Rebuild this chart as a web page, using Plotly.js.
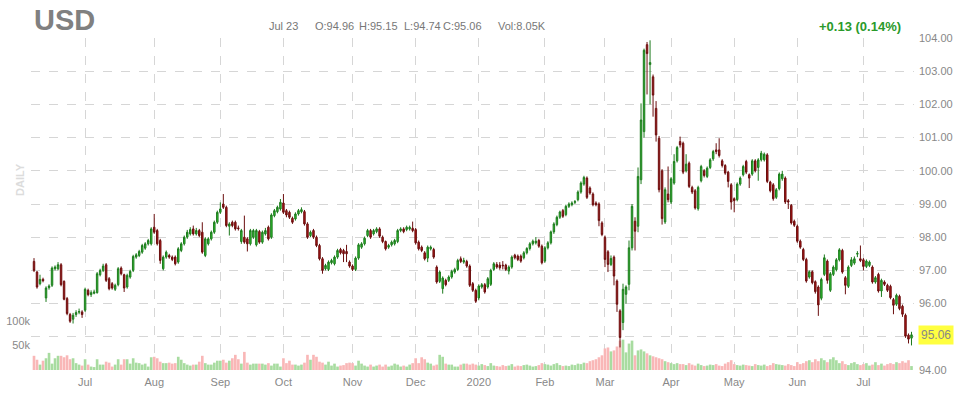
<!DOCTYPE html>
<html><head><meta charset="utf-8">
<script src="https://cdn.plot.ly/plotly-3.0.1.min.js"></script>
<style>html,body{margin:0;padding:0;background:#fff;}#chart{width:958px;height:398px;}</style>
</head><body><div id="chart"></div>
<script>
const startDate = '2019-06-06';
const holidays = ['2019-12-25','2020-01-01','2020-04-10'];
const monthLabels = ['Jul','Aug','Sep','Oct','Nov','Dec','2020','Feb','Mar','Apr','May','Jun','Jul'];
const priceTicks = [94,95,96,97,98,99,100,101,102,103,104];

const openP = [
97.27,96.95,96.60,96.73,96.17,96.48,96.55,97.05,97.05,97.17,
96.67,96.15,95.67,95.53,95.67,95.74,95.75,95.80,96.40,96.27,
96.31,96.33,96.87,97.00,97.17,96.75,96.60,96.43,96.57,97.07,
96.87,96.50,96.80,97.00,97.40,97.45,97.55,97.67,97.80,97.80,
98.30,98.20,97.90,97.05,97.40,97.45,97.40,97.40,97.25,97.60,
97.80,98.00,98.10,98.25,98.10,98.20,98.15,97.45,97.80,97.95,
98.15,98.45,98.75,99.00,98.90,98.33,98.45,98.45,98.28,97.87,
98.00,97.95,97.80,98.00,97.77,98.17,97.85,98.10,98.30,98.00,
98.65,98.77,98.85,99.03,98.80,98.75,98.57,98.55,98.70,98.77,
98.77,98.40,98.05,98.20,98.00,97.75,97.35,97.05,97.03,97.23,
97.20,97.40,97.63,97.60,97.57,97.25,97.13,97.03,97.37,97.70,
97.80,98.05,98.20,98.10,98.17,98.25,98.00,97.87,97.70,97.77,
97.80,97.87,98.20,98.25,98.23,98.25,98.27,98.23,97.85,97.70,
97.53,97.37,97.65,97.63,97.10,96.67,96.45,96.70,96.70,96.80,
96.95,97.03,97.35,97.25,97.27,97.13,96.60,96.40,96.17,96.50,
96.57,96.50,96.58,97.03,97.18,97.16,97.16,97.16,96.98,97.10,
97.46,97.43,97.43,97.38,97.53,97.66,97.80,97.83,97.90,97.73,
97.28,97.68,97.83,98.16,98.38,98.60,98.80,98.68,98.93,98.98,
99.05,99.13,99.36,99.60,99.78,99.48,99.30,99.03,99.00,98.43,
98.00,97.56,97.18,97.40,96.68,95.78,95.43,96.28,96.58,97.68,
98.48,98.33,99.73,101.18,103.80,103.20,102.83,101.88,100.98,100.00,
98.46,99.30,99.06,99.63,100.30,100.88,100.83,100.00,100.23,99.50,
99.40,98.86,99.70,100.00,99.83,100.10,100.36,100.63,100.63,100.30,
100.16,99.96,99.58,99.16,99.13,99.60,99.88,100.28,99.88,99.90,
100.30,100.10,100.33,100.33,100.48,99.66,99.58,99.20,99.46,99.76,
99.78,99.10,98.96,98.48,98.33,97.88,97.63,97.33,96.80,96.96,
96.66,96.50,96.16,96.88,97.28,96.40,96.88,97.02,97.32,97.60,
96.78,96.52,97.15,97.22,97.49,97.35,97.32,97.12,97.15,97.10,
96.65,96.88,96.38,96.65,96.55,96.52,96.12,95.98,96.22,95.92,
95.65,95.05,94.96];

const highP = [
97.37,96.98,96.87,96.78,96.52,96.58,97.12,97.15,97.25,97.22,
96.70,96.20,95.72,95.72,95.80,95.85,95.80,96.48,96.45,96.40,
96.42,96.95,97.05,97.20,97.22,96.80,96.65,96.60,97.10,97.12,
96.90,96.90,97.02,97.47,97.52,97.62,97.80,97.85,97.95,98.30,
98.70,98.25,97.95,97.45,97.60,97.50,97.45,97.45,97.70,97.85,
98.05,98.22,98.30,98.35,98.28,98.25,98.45,98.00,98.00,98.20,
98.50,98.80,99.05,99.30,98.95,98.45,98.50,98.50,98.35,98.25,
98.65,98.00,98.25,98.25,98.25,98.22,98.20,98.28,98.35,98.72,
98.85,98.95,99.15,99.30,98.85,98.80,98.62,98.75,98.85,98.90,
98.82,98.45,98.20,98.25,98.05,97.80,97.40,97.20,97.30,97.35,
97.45,97.65,97.68,97.65,97.77,97.30,97.18,97.42,97.82,97.85,
98.02,98.25,98.25,98.25,98.30,98.30,98.05,97.90,97.80,97.90,
97.95,98.25,98.30,98.30,98.35,98.35,98.47,98.28,97.90,97.75,
97.58,97.75,97.75,97.68,97.15,97.00,96.82,96.75,96.85,97.02,
97.08,97.35,97.42,97.38,97.32,97.18,96.65,96.45,96.58,96.62,
96.62,96.80,97.05,97.25,97.25,97.25,97.28,97.20,97.15,97.45,
97.50,97.48,97.48,97.58,97.70,97.85,97.93,98.00,97.95,97.78,
97.73,97.88,98.20,98.45,98.65,98.80,98.85,98.98,99.05,99.08,
99.12,99.41,99.68,99.85,99.83,99.53,99.35,99.08,99.05,98.48,
98.05,97.61,97.45,97.45,96.73,95.83,96.60,96.55,97.90,99.00,
98.60,100.10,102.03,103.68,103.88,103.93,102.90,102.10,101.05,100.05,
99.50,100.13,99.81,100.50,100.75,101.03,100.88,100.50,100.28,99.55,
99.45,99.55,100.18,100.05,100.13,100.38,100.63,100.83,100.98,100.35,
100.20,100.00,99.63,99.20,99.65,99.83,100.18,100.33,99.92,100.35,
100.35,100.38,100.60,100.55,100.53,99.70,99.63,99.48,99.95,100.00,
99.83,99.15,99.00,98.53,98.38,97.93,97.68,97.38,97.00,97.00,
96.70,96.55,96.78,97.48,97.33,96.95,97.15,97.37,97.67,97.65,
96.83,97.15,97.40,97.42,97.58,97.75,97.37,97.33,97.30,97.15,
96.83,96.93,96.75,96.70,96.60,96.57,96.17,96.30,96.27,95.97,
95.70,95.10,95.15];

const lowP = [
96.95,96.45,96.55,96.64,96.05,96.42,96.50,97.00,97.00,96.52,
96.10,95.65,95.42,95.40,95.60,95.68,95.57,95.75,96.22,96.20,
96.28,96.30,96.82,96.95,96.65,96.40,96.42,96.38,96.52,96.85,
96.35,96.45,96.75,96.95,97.35,97.40,97.50,97.62,97.75,97.75,
98.10,97.75,97.20,97.00,97.35,97.35,97.28,97.15,97.20,97.55,
97.75,97.95,98.05,98.05,98.05,98.00,97.50,97.40,97.75,97.90,
98.10,98.40,98.70,98.85,98.30,98.05,98.30,98.20,98.20,97.80,
97.80,97.57,97.75,97.95,97.72,97.80,97.80,98.05,97.90,97.95,
98.60,98.72,98.80,98.70,98.60,98.55,98.40,98.50,98.65,98.72,
98.35,97.95,98.00,97.95,97.70,97.30,96.90,97.00,96.98,97.18,
97.15,97.35,97.48,97.25,97.25,97.08,96.98,96.98,97.32,97.65,
97.75,98.00,97.95,98.05,98.12,97.98,97.82,97.60,97.65,97.72,
97.75,97.82,98.15,98.12,98.18,98.20,98.15,97.78,97.60,97.55,
97.30,97.25,97.60,97.35,96.60,96.62,96.30,96.52,96.65,96.75,
96.90,96.98,97.22,97.20,97.08,96.50,96.35,96.02,96.10,96.45,
96.30,96.45,96.53,96.98,97.05,97.02,97.03,96.98,96.88,97.05,
97.33,97.28,97.23,97.33,97.48,97.60,97.75,97.78,97.68,97.18,
97.23,97.63,97.78,98.10,98.33,98.55,98.58,98.63,98.88,98.93,
99.00,99.08,99.31,99.55,99.15,99.28,98.93,98.93,98.33,98.03,
97.10,96.95,97.13,96.55,95.75,94.68,95.20,96.00,96.40,97.60,
97.60,98.15,99.60,101.00,102.30,102.00,101.63,100.88,99.35,98.38,
98.40,99.05,99.00,99.58,100.25,100.70,99.90,99.95,99.48,99.30,
98.83,98.80,99.65,99.80,99.78,100.05,100.30,100.50,100.40,100.10,
99.88,99.50,98.83,98.75,99.08,99.55,99.83,99.90,99.48,99.85,
99.95,99.70,100.28,100.28,99.63,99.35,99.10,99.15,99.41,99.70,
99.00,98.85,98.38,98.31,97.83,97.65,97.28,96.63,96.75,96.58,
96.30,95.63,96.10,96.83,96.60,96.35,96.83,96.97,97.27,96.90,
96.28,96.47,97.10,97.17,97.40,97.25,97.00,97.07,97.10,96.60,
96.60,96.33,96.20,96.53,96.35,96.13,95.68,95.93,95.80,95.60,
94.97,94.80,94.74];

const closeP = [
97.00,96.50,96.73,96.69,96.47,96.53,97.07,97.10,97.17,96.57,
96.13,95.70,95.47,95.65,95.73,95.76,95.67,96.43,96.27,96.33,
96.35,96.90,97.00,97.13,96.70,96.45,96.47,96.55,97.05,96.90,
96.47,96.85,96.97,97.42,97.47,97.57,97.75,97.80,97.90,98.25,
98.15,97.80,97.30,97.40,97.55,97.40,97.33,97.20,97.65,97.80,
98.00,98.15,98.23,98.10,98.20,98.05,97.55,97.95,97.95,98.15,
98.45,98.75,98.85,98.90,98.35,98.40,98.35,98.25,98.26,98.20,
97.85,97.80,98.20,98.20,98.20,97.85,98.15,98.20,97.95,98.67,
98.80,98.90,99.05,98.75,98.67,98.60,98.45,98.70,98.80,98.83,
98.40,98.00,98.15,98.00,97.75,97.35,97.00,97.15,97.25,97.30,
97.40,97.60,97.53,97.50,97.50,97.13,97.03,97.37,97.77,97.80,
97.97,98.20,98.00,98.20,98.25,98.03,97.87,97.65,97.75,97.85,
97.90,98.20,98.25,98.17,98.30,98.30,98.20,97.83,97.65,97.60,
97.35,97.70,97.70,97.40,96.65,96.95,96.77,96.57,96.80,96.97,
97.03,97.30,97.27,97.30,97.13,96.55,96.40,96.07,96.53,96.57,
96.35,96.75,97.00,97.20,97.10,97.08,97.14,97.03,97.10,97.40,
97.38,97.33,97.28,97.53,97.66,97.80,97.88,97.88,97.73,97.23,
97.68,97.83,98.16,98.40,98.60,98.76,98.63,98.93,99.00,99.03,
99.07,99.36,99.63,99.80,99.20,99.33,98.98,98.98,98.50,98.08,
97.33,97.18,97.36,96.83,95.98,94.98,96.43,96.50,97.68,98.93,
98.18,99.83,101.53,103.63,103.53,103.26,102.28,101.08,99.43,98.56,
99.43,99.13,99.76,100.28,100.70,100.78,99.96,100.20,99.53,99.36,
98.88,99.50,100.13,99.86,100.08,100.33,100.58,100.58,100.46,100.16,
99.93,99.68,99.06,99.10,99.60,99.78,100.13,99.96,99.78,100.30,
100.00,100.33,100.53,100.50,99.68,99.40,99.16,99.43,99.90,99.90,
99.06,99.06,98.43,98.36,97.88,97.70,97.33,96.68,96.96,96.63,
96.36,95.96,96.73,97.38,96.70,96.90,97.10,97.32,97.62,96.95,
96.55,97.10,97.32,97.35,97.51,97.30,97.12,97.28,97.25,96.65,
96.78,96.38,96.70,96.58,96.40,96.18,95.95,96.25,95.85,95.68,
95.02,94.93,95.06];

const volumeK = [
29,21,11,19,24,35,13,24,29,29,
26,30,22,24,14,11,9,22,11,7,
6,22,11,11,17,15,7,11,22,11,
22,22,13,24,15,14,11,13,7,26,
27,24,17,14,14,15,13,14,27,21,
14,11,9,11,11,17,29,14,11,11,
15,19,19,21,15,19,24,31,22,13,
37,15,11,13,13,13,13,11,14,9,
13,13,7,24,14,19,11,11,9,11,
15,31,21,31,27,17,15,11,17,9,
13,7,9,10,14,15,14,9,19,13,
9,7,11,7,9,11,7,11,7,9,
13,11,7,9,7,11,14,24,14,26,
22,15,13,9,11,31,27,13,11,11,
7,7,11,13,13,11,13,11,
9,12,10,8,14,9,8,7,10,8,
9,12,7,9,8,10,11,9,7,8,
10,14,12,11,9,12,14,10,8,9,
8,11,10,13,12,15,14,18,
20,22,26,30,44,46,38,40,48,60,
62,36,54,60,30,40,
42,38,34,30,28,26,24,22,18,16,
14,12,14,12,
12,10,14,11,9,13,10,8,9,11,
10,12,9,8,13,16,20,12,10,9,
11,10,9,8,12,10,9,11,8,10,
14,12,11,10,9,12,10,8,16,12,
14,18,20,16,22,18,24,20,16,22,
26,20,14,18,12,10,14,16,12,10,
12,14,9,11,16,10,13,9,12,14,
12,16,14,18,15,20,8];

function tradingDays(start, n, skip) {
  const out = [];
  const d = new Date(start + 'T00:00:00Z');
  while (out.length < n) {
    const dow = d.getUTCDay();
    const s = d.toISOString().slice(0, 10);
    if (dow !== 0 && dow !== 6 && skip.indexOf(s) < 0) out.push(s);
    d.setUTCDate(d.getUTCDate() + 1);
  }
  return out;
}
const dates = tradingDays(startDate, closeP.length, holidays);

const tickVals = [], tickText = [];
let m = 0;
for (let i = 1; i < dates.length; i++) {
  if (dates[i].slice(5, 7) !== dates[i - 1].slice(5, 7)) {
    tickVals.push(dates[i]);
    tickText.push(monthLabels[m++]);
  }
}
const volColors = closeP.map((c, i) => c >= openP[i] ? '#a8dca0' : '#f9b7b7');
const lastClose = closeP[closeP.length - 1];
// the yellow last-price tag hides the nearest axis label, as in the reference
const priceText = priceTicks.map(v => Math.abs(v - lastClose) < 0.3 ? '' : v.toFixed(2));

const FONT = 'Liberation Sans, Arial, sans-serif';
const W = 958, H = 398, ML = 31, MR = 44, MT = 38, MB = 28;
const PW = W - ML - MR, PH = H - MT - MB;
const px = v => (v - ML) / PW;
const py = v => (H - MB - v) / PH;

const traces = [
  {
    type: 'bar', x: dates, y: volumeK, yaxis: 'y', xaxis: 'x',
    marker: { color: volColors, line: { width: 0 } }, hoverinfo: 'skip'
  },
  {
    type: 'candlestick', x: dates, open: openP, high: highP, low: lowP, close: closeP,
    xaxis: 'x', yaxis: 'y2', whiskerwidth: 0, hoverinfo: 'skip',
    increasing: { line: { color: '#1d7a1d', width: 1 }, fillcolor: '#2fc72f' },
    decreasing: { line: { color: '#6a0e0e', width: 1 }, fillcolor: '#b31515' }
  }
];

const lastDate = dates[dates.length - 1];
const layout = {
  width: W, height: H,
  margin: { l: ML, r: MR, t: MT, b: MB, pad: 0 },
  paper_bgcolor: '#ffffff', plot_bgcolor: '#ffffff',
  showlegend: false, bargap: 0.12,
  font: { family: FONT, color: '#888', size: 11 },
  xaxis: {
    type: 'date',
    range: ['2019-06-05', lastDate + ' 20:00'],
    rangebreaks: [{ bounds: ['sat', 'mon'] }, { values: holidays }],
    rangeslider: { visible: false },
    tickmode: 'array', tickvals: tickVals, ticktext: tickText,
    showgrid: true, gridcolor: '#d6d6d6', griddash: 'dash', gridwidth: 1,
    zeroline: false, showline: false, ticks: '', ticklabelstandoff: 4,
    tickfont: { family: FONT, size: 11, color: '#888' }
  },
  yaxis: {
    range: [0, 678], side: 'left',
    tickmode: 'array', tickvals: [50, 100], ticktext: ['50k', '100k'],
    showgrid: false, zeroline: false, showline: false, ticks: '',
    tickfont: { family: FONT, size: 11, color: '#888' }
  },
  yaxis2: {
    overlaying: 'y', side: 'right', range: [94, 104],
    tickmode: 'array', tickvals: priceTicks, ticktext: priceText,
    showgrid: true, gridcolor: '#d6d6d6', griddash: 'dash', gridwidth: 1,
    zeroline: false, showline: false, ticks: '', ticklabelstandoff: 4,
    tickfont: { family: FONT, size: 11, color: '#888' }
  },
  annotations: [
    { xref: 'paper', yref: 'paper', x: px(32), y: py(20), xanchor: 'left', yanchor: 'middle',
      text: 'USD', showarrow: false, font: { family: FONT, size: 29, color: '#808080', weight: 'bold' } },
    { xref: 'paper', yref: 'paper', x: px(267), y: py(26), xanchor: 'left', yanchor: 'middle',
      text: 'Jul 23', showarrow: false, font: { family: FONT, size: 11, color: '#777' } },
    { xref: 'paper', yref: 'paper', x: px(313), y: py(26), xanchor: 'left', yanchor: 'middle',
      text: 'O:94.96', showarrow: false, font: { family: FONT, size: 11, color: '#777' } },
    { xref: 'paper', yref: 'paper', x: px(357), y: py(26), xanchor: 'left', yanchor: 'middle',
      text: 'H:95.15', showarrow: false, font: { family: FONT, size: 11, color: '#777' } },
    { xref: 'paper', yref: 'paper', x: px(402), y: py(26), xanchor: 'left', yanchor: 'middle',
      text: 'L:94.74', showarrow: false, font: { family: FONT, size: 11, color: '#777' } },
    { xref: 'paper', yref: 'paper', x: px(441), y: py(26), xanchor: 'left', yanchor: 'middle',
      text: 'C:95.06', showarrow: false, font: { family: FONT, size: 11, color: '#777' } },
    { xref: 'paper', yref: 'paper', x: px(496), y: py(26), xanchor: 'left', yanchor: 'middle',
      text: 'Vol:8.05K', showarrow: false, font: { family: FONT, size: 11, color: '#777' } },
    { xref: 'paper', yref: 'paper', x: px(817), y: py(26), xanchor: 'left', yanchor: 'middle',
      text: '+0.13 (0.14%)', showarrow: false, font: { family: FONT, size: 13, color: '#2a9a2a', weight: 'bold' } },
    { xref: 'paper', yref: 'paper', x: px(20), y: py(180), xanchor: 'center', yanchor: 'middle',
      text: 'DAILY', textangle: -90, showarrow: false, font: { family: FONT, size: 11, color: '#dcdcdc', weight: 'bold' } },
    { xref: 'paper', yref: 'y2', x: 1, y: lastClose, xanchor: 'left', yanchor: 'middle', xshift: 4,
      text: lastClose.toFixed(2), showarrow: false, bgcolor: '#ffff40', borderpad: 2,
      font: { family: FONT, size: 12, color: '#888' } }
  ]
};

Plotly.newPlot('chart', traces, layout, { displayModeBar: false, staticPlot: true });
</script>
</body></html>
